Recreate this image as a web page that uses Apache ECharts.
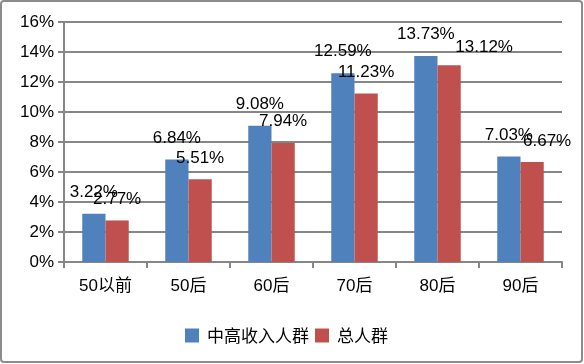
<!DOCTYPE html>
<html><head><meta charset="utf-8">
<script src="https://cdn.jsdelivr.net/npm/echarts@6/dist/echarts.min.js"></script>
<style>html,body{margin:0;padding:0;background:#fff}#c{width:584px;height:364px}</style>
</head><body><div id="c"></div>
<script>
const categories = ['50以前','50后','60后','70后','80后','90后'];
const seriesNames = ['中高收入人群','总人群'];
const highIncome = [3.22, 6.84, 9.08, 12.59, 13.73, 7.03];
const total = [2.77, 5.51, 7.94, 11.23, 13.12, 6.67];
const yTicks = [0,2,4,6,8,10,12,14,16];

// label nudges (as in the source, some labels were moved to avoid overlap)
const totalLabelOffsets = {4:[35,4], 5:[15,1]};

const chart = echarts.init(document.getElementById('c'));
const labelFont = {fontFamily:'Liberation Sans, Arial', fontSize:17, color:'#000'};
const fmt = p => p.value.toFixed(2)+'%';
chart.setOption({
  animation:false,
  graphic:[{type:'rect', shape:{x:1,y:1,width:581,height:361,r:3}, style:{fill:'none', stroke:'#8c8c8c', lineWidth:2}}],
  grid:{left:64, right:22, top:22, bottom:102, containLabel:false},
  legend:{top:322, left:180, itemWidth:14, itemHeight:14, itemGap:6, icon:'rect',
    textStyle:{fontFamily:'Noto Sans CJK SC', fontSize:17, color:'#000', padding:[0,0,0,3]}, data:seriesNames},
  xAxis:{type:'category', data:categories,
    axisLine:{lineStyle:{color:'#868686', width:2}},
    axisTick:{show:true, length:6, lineStyle:{color:'#868686', width:2}},
    axisLabel:{margin:16, fontFamily:'Liberation Sans, Noto Sans CJK SC', fontSize:17, color:'#000'}},
  yAxis:{type:'value', min:0, max:16, interval:2,
    axisLine:{show:true, lineStyle:{color:'#868686', width:2}},
    axisTick:{show:true, length:6, lineStyle:{color:'#868686', width:2}},
    splitLine:{lineStyle:{color:'#868686', width:2}},
    axisLabel:{margin:10, fontFamily:'Liberation Sans, Arial', fontSize:17, color:'#000', formatter: v => v + '%'}},
  series:[
    {name:seriesNames[0], type:'bar', data:highIncome, barGap:'0%', barCategoryGap:'44%',
      itemStyle:{color:'#4f81bd'},
      label:{show:true, position:'top', distance:13, ...labelFont, formatter: fmt}},
    {name:seriesNames[1], type:'bar',
      data: total.map((v,i) => totalLabelOffsets[i] ? {value:v, label:{offset:totalLabelOffsets[i]}} : v),
      itemStyle:{color:'#c0504d'},
      label:{show:true, position:'top', distance:13, ...labelFont, formatter: fmt}}
  ]
});
</script></body></html>
